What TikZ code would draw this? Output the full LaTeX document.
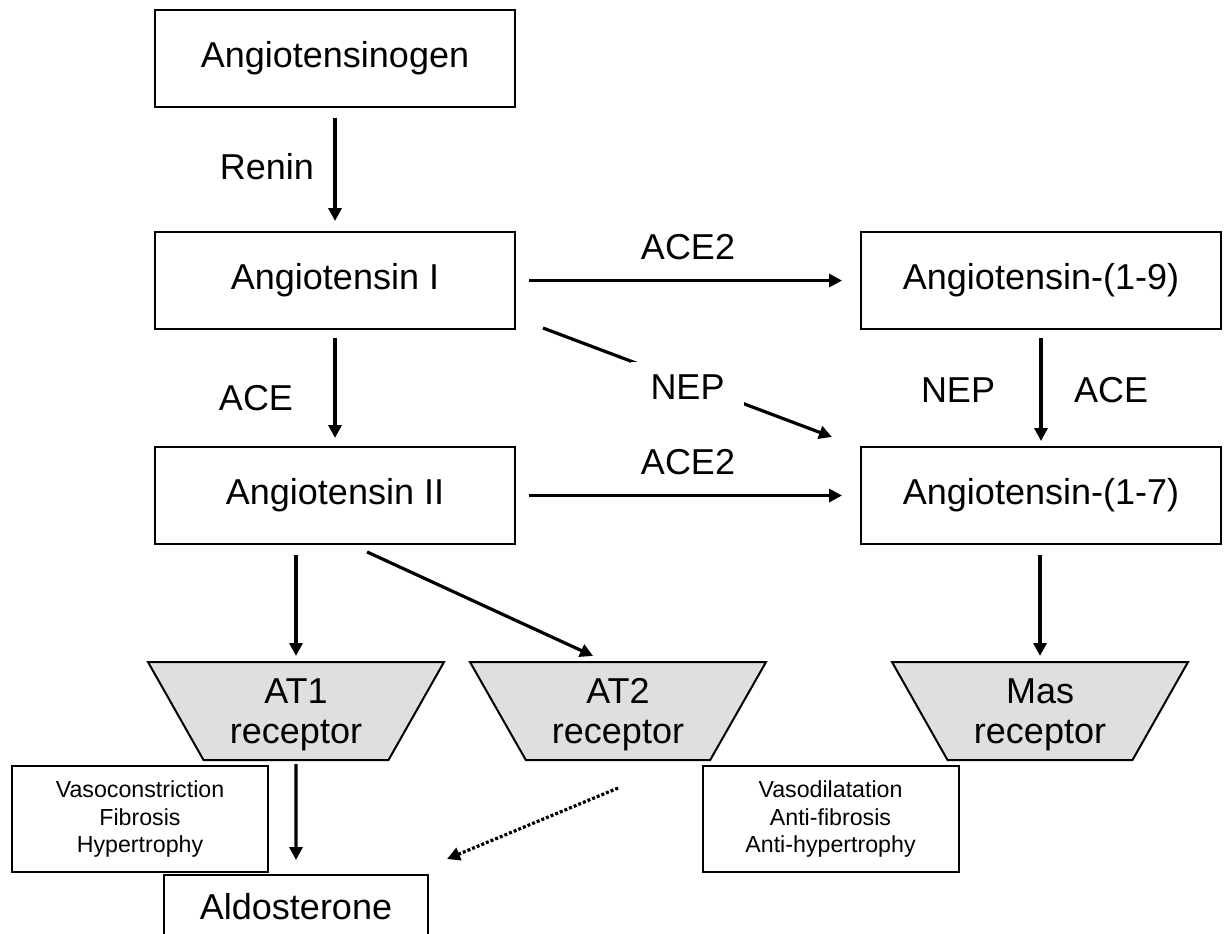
\documentclass[tikz,border=0pt]{standalone}
\usepackage{fontspec}
\setmainfont{Liberation Sans}
\usetikzlibrary{shapes,positioning,calc,shapes.geometric}
\usetikzlibrary{arrows.meta}

\begin{document}
\begin{tikzpicture}[
x=0.5pt, y=-0.5pt,
peptide/.style={rectangle, draw=black, line width=1pt, minimum width=180pt, minimum height=48.5pt, font=\fontsize{18}{20}\selectfont},
receptor/.style={trapezium, trapezium angle=49.4, trapezium stretches body, shape border rotate=180, draw=black, line width=1pt, fill=gray!25, minimum width=148pt, minimum height=49pt, inner sep=0pt, text depth=0pt, align=center, font=\fontsize{18}{20}\selectfont},
effect/.style={rectangle, draw=black, line width=1pt, minimum width=128pt, minimum height=53pt, align=center, font=\fontsize{11.6}{13.6}\selectfont},
enzyme/.style={inner sep=0pt, font=\fontsize{18}{20}\selectfont},
conv/.style={-{Triangle[length=6.5pt,width=6.5pt]}, line width=1.6pt},
]
\useasboundingbox (0,0) rectangle (1224,933);

\node[peptide] (agen) at (335,58) {Angiotensinogen};
\node[peptide] (ang1) at (335,280.5) {Angiotensin I};
\node[peptide] (ang19) at (1041,280.5) {Angiotensin-(1-9)};
\node[peptide] (ang2) at (335,495.5) {Angiotensin II};
\node[peptide] (ang17) at (1041,495.5) {Angiotensin-(1-7)};

\node[receptor] (at1) at (296,711) {AT1\\receptor};
\node[receptor] (at2) at (618,711) {AT2\\receptor};
\node[receptor] (mas) at (1040,711) {Mas\\receptor};

\node[effect] (vcon) at (140,819) {Vasoconstriction\\Fibrosis\\Hypertrophy};
\node[effect] (vdil) at (830.5,819) {Vasodilatation\\Anti-fibrosis\\Anti-hypertrophy};
\node[peptide, minimum width=132pt, minimum height=32pt] (aldo) at (296,907) {Aldosterone};

\node[enzyme] (renin) at (267,167) {Renin};
\node[enzyme] (ace) at (256,398) {ACE};
\node[enzyme] (ace2a) at (688,247) {ACE2};
\node[enzyme] (ace2b) at (688,462) {ACE2};
\node[enzyme] (nepb) at (958,390) {NEP};
\node[enzyme] (aceb) at (1111,390) {ACE};

\draw[conv, shorten <=5pt, shorten >=5pt] (agen) -- (ang1);
\draw[conv, shorten <=4pt, shorten >=4pt] (ang1) -- (ang2);
\draw[conv, shorten <=6.5pt, shorten >=9pt] (ang1) -- (ang19);
\draw[conv, shorten <=6.5pt, shorten >=9pt] (ang2) -- (ang17);
\draw[conv, shorten <=4pt, shorten >=2.5pt] (ang19) -- (ang17);
\draw[conv] ([xshift=13.5pt,yshift=1pt]ang1.south east) -- ([xshift=-14pt,yshift=4.5pt]ang17.north west)
  node[midway, yshift=-2.5pt, fill=white, inner xsep=9.75pt, inner ysep=6.75pt, font=\fontsize{18}{20}\selectfont] (nepa) {NEP};
\draw[conv, shorten <=5pt, shorten >=2.5pt] (ang2.south -| at1.north) -- (at1.north);
\draw[conv, shorten <=8.3pt, shorten >=6pt] ([xshift=8.5pt]ang2.south) -- ([xshift=-7pt]at2.north);
\draw[conv, shorten <=5pt, shorten >=2.5pt] (ang17.south -| mas.north) -- (mas.north);
\draw[conv, shorten <=1.5pt, shorten >=7pt] (at1) -- (aldo);
\draw[conv, dash pattern=on 1.5pt off 1pt] ([yshift=-13.5pt]at2.south) -- ([xshift=9pt,yshift=7.5pt]aldo.north east);
\end{tikzpicture}
\end{document}
